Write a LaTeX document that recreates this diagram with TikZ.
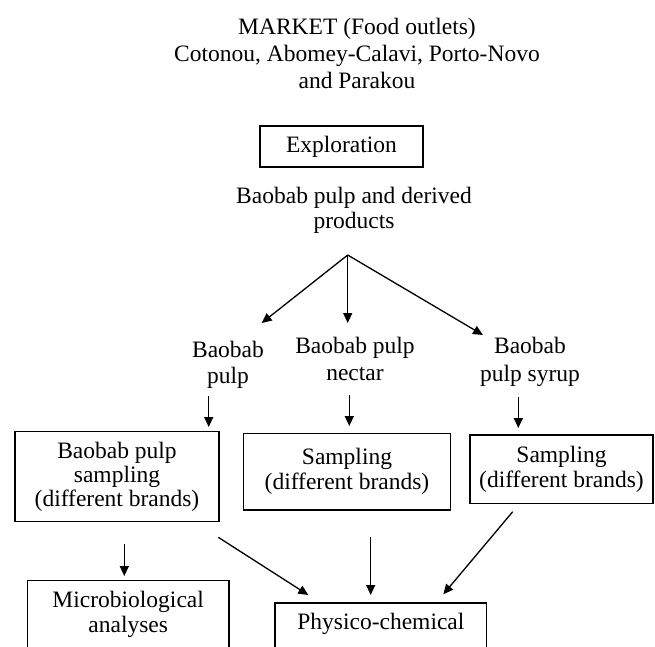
\documentclass[tikz,border=0pt]{standalone}
\usepackage{fontspec}
\setmainfont{Liberation Serif}
\usetikzlibrary{arrows.meta}

\begin{document}
\begin{tikzpicture}[x=1pt, y=-1pt,
    txt/.style={font=\fontsize{23.5}{25}\selectfont, align=center, inner sep=0pt},
    box/.style={txt, draw, line width=1.4pt},
    arr/.style={-{Triangle[length=10pt,width=9pt]}, line width=1.3pt}]
    \clip (0, 0) rectangle (655, 646);

    % market, exploration
    \node[txt, anchor=north, font=\fontsize{23.5}{27}\selectfont] (market) at (357, 18.3)
        {MARKET (Food outlets)\\Cotonou, Abomey-Calavi, Porto-Novo\\and Parakou};
    \node[box, minimum width=163pt, minimum height=41pt] (explo) at (341.5, 146.5) {Exploration};
    \node[txt, anchor=north] (derived) at (354, 186.7) {Baobab pulp and derived\\products};

    % products
    \node[txt, anchor=north, font=\fontsize{23.5}{26.3}\selectfont] (pulp) at (228, 340.6) {Baobab\\pulp};
    \node[txt, anchor=north, font=\fontsize{23.5}{27}\selectfont] (nectar) at (355, 337) {Baobab pulp\\nectar};
    \node[txt, anchor=north, font=\fontsize{23.5}{27.5}\selectfont] (syrup) at (530, 337) {Baobab\\pulp syrup};

    % sampling
    \node[box, font=\fontsize{23.5}{24.3}\selectfont, minimum width=204pt, minimum height=90pt]
        (pulpbox) at (117, 476.7) {Baobab pulp\\sampling\\(different brands)};
    \node[box, minimum width=207.4pt, minimum height=76.7pt]
        (nectarbox) at (347, 471.7) {Sampling\\(different brands)};
    \node[box, minimum width=183pt, minimum height=68.3pt]
        (syrupbox) at (561.5, 469.2) {Sampling\\(different brands)};

    % analyses
    \node[box, anchor=north, minimum width=201.7pt, inner ysep=10.6pt, text depth=60pt]
        (micro) at (128.2, 580) {Microbiological\\analyses};
    \node[box, anchor=north, minimum width=211.7pt, inner ysep=10pt, text depth=40pt]
        (physico) at (380.9, 602.3) {Physico-chemical};

    % arrows
    \coordinate (fan) at (347.7, 255);
    \coordinate (f1) at (261.7, 323);
    \coordinate (f2) at (347.7, 323);
    \coordinate (f3) at (483, 335);
    \draw[arr] (fan) -- (f1);
    \draw[arr] (fan) -- (f2);
    \draw[arr] (fan) -- (f3);

    \coordinate (s1) at (208.7, 396);  \coordinate (e1) at (208.7, 427);
    \coordinate (s2) at (349.3, 395);  \coordinate (e2) at (349.3, 426);
    \coordinate (s3) at (518.3, 397);  \coordinate (e3) at (518.3, 428);
    \draw[arr] (s1) -- (e1);
    \draw[arr] (s2) -- (e2);
    \draw[arr] (s3) -- (e3);

    \coordinate (m1) at (124.3, 544);  \coordinate (m2) at (124.3, 576);
    \draw[arr] (m1) -- (m2);
    \coordinate (a1) at (218.3, 537.3); \coordinate (a2) at (308.3, 595);
    \coordinate (b1) at (370.7, 537);   \coordinate (b2) at (370.7, 595);
    \coordinate (c1) at (512.7, 511.7); \coordinate (c2) at (443.3, 594.3);
    \draw[arr] (a1) -- (a2);
    \draw[arr] (b1) -- (b2);
    \draw[arr] (c1) -- (c2);
\end{tikzpicture}
\end{document}
